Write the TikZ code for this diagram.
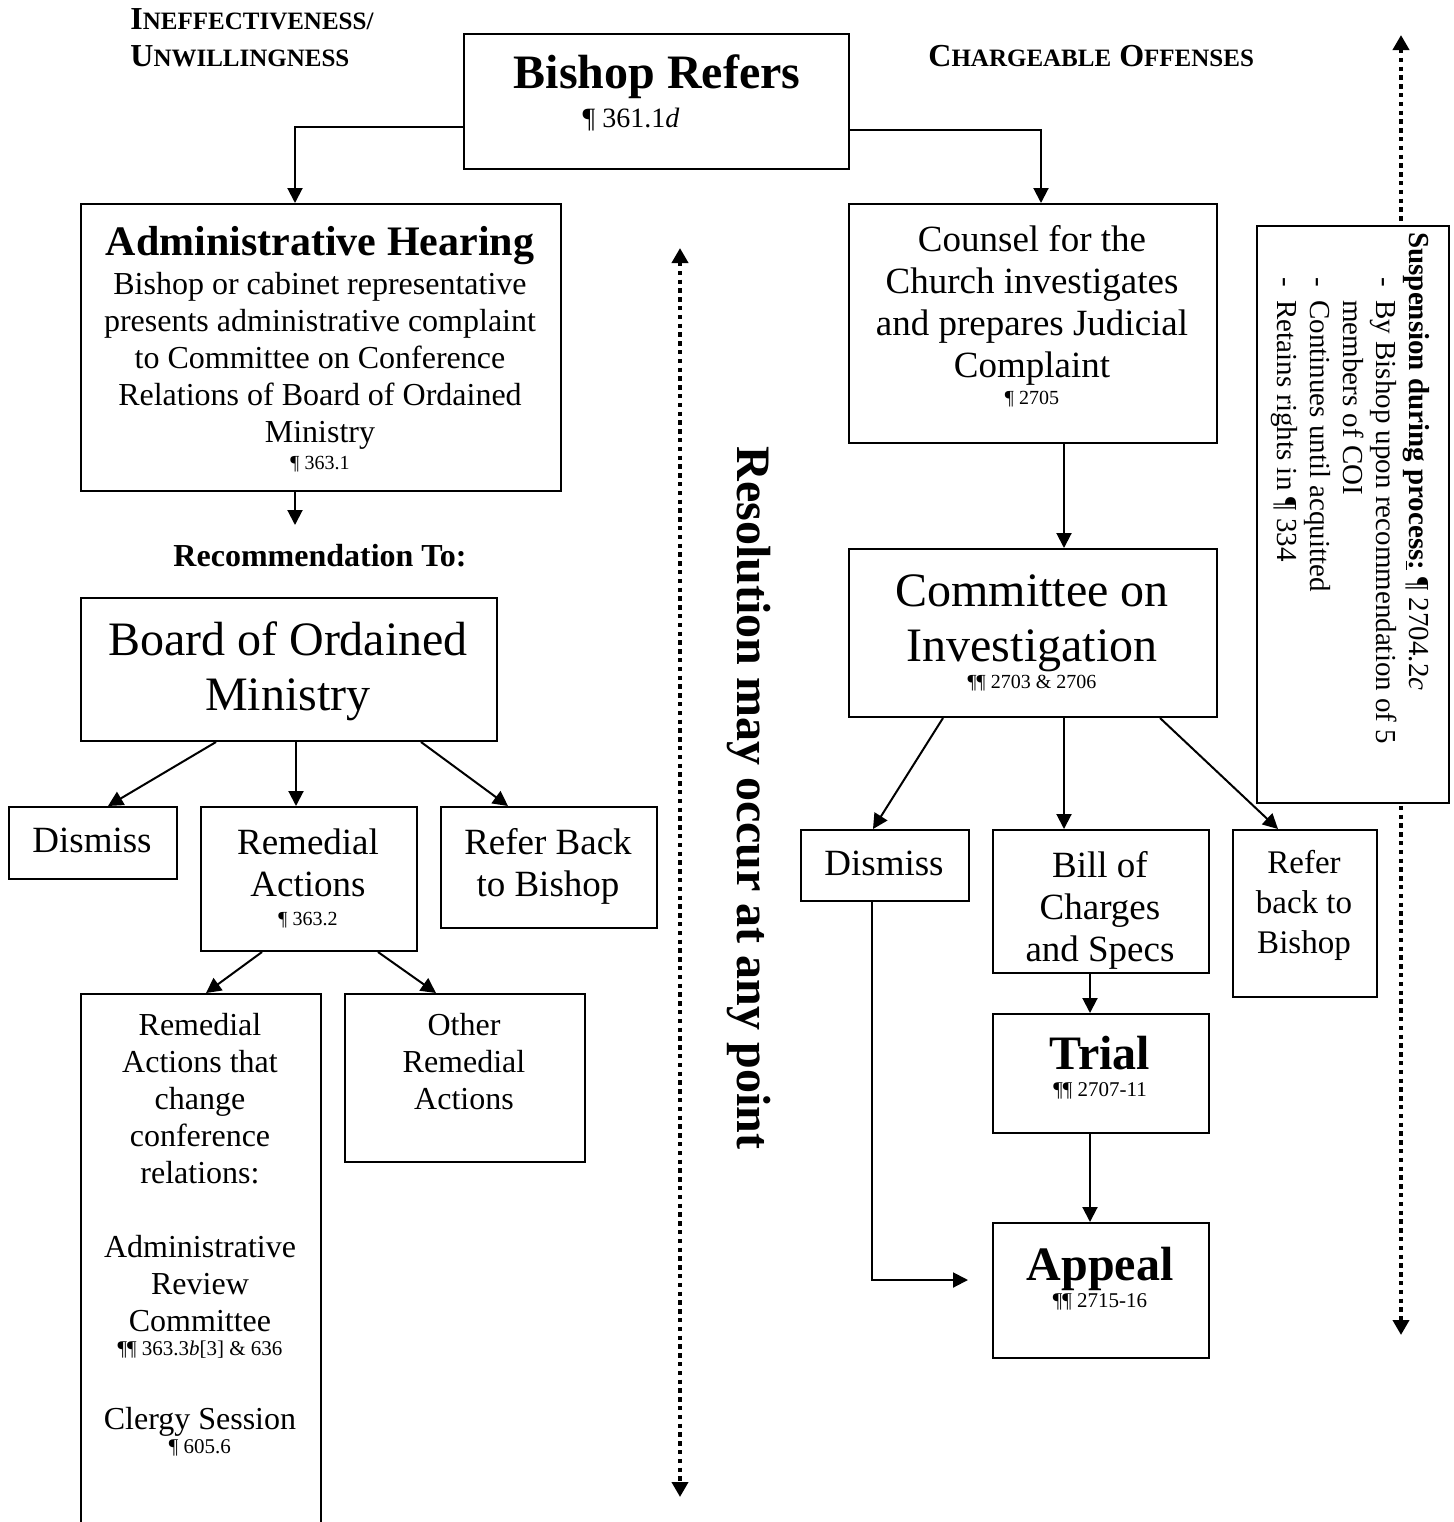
\documentclass[tikz,border=0pt]{standalone}
\usepackage{fontspec}
\setmainfont{Liberation Serif}
\usetikzlibrary{arrows.meta,calc}
\newcommand{\fsz}[2]{\fontsize{#1}{#2}\selectfont\spaceskip=.25em\xspaceskip=.25em\relax}
\newcommand{\SCap}[2]{{\fontsize{16}{18}\selectfont #1}{\fontsize{12.5}{15}\selectfont #2}}
\tikzset{
  box/.style={draw, line width=1pt, inner sep=0, anchor=north west, fill=white},
  arr/.style={line width=1pt, -{Triangle[length=7.5pt,width=7.5pt]}},
  dotarr/.style={line width=2.2pt, dash pattern=on 2.2pt off 2.2pt,
     {Triangle[length=7.5pt,width=8pt]}-{Triangle[length=7.5pt,width=8pt]}},
  txt/.style={inner sep=0, align=center, anchor=north},
  one/.style={inner sep=0, anchor=base},
}
\begin{document}
\begin{tikzpicture}[x=0.5pt,y=-0.5pt]
\useasboundingbox (0,0) rectangle (1454,1522);

% headers
\node[inner sep=0, anchor=base west, font=\bfseries] (h1) at (130,29) {\SCap{I}{NEFFECTIVENESS/}};
\node[inner sep=0, anchor=base west, font=\bfseries] (h2) at (130,66) {\SCap{U}{NWILLINGNESS}};
\node[inner sep=0, anchor=base west, font=\bfseries] (h3) at (928,66) {\SCap{C}{HARGEABLE}\hspace{4pt}\SCap{O}{FFENSES}};

% dotted arrows
\coordinate (resTop) at (680,248);
\coordinate (resBot) at (680,1497);
\draw[dotarr] (resTop) -- (resBot);
\coordinate (susTop) at (1401,35);
\coordinate (susBot) at (1401,1335);
\draw[dotarr] (susTop) -- (susBot);

\node[rotate=-90, inner sep=0, font=\fsz{24}{28}\bfseries] (res) at (749,798) {Resolution may occur at any point};

% boxes
\node[box, minimum width=192.5pt, minimum height=67.5pt] (bishop) at (463,33) {};
\node[box, minimum width=240pt, minimum height=143.5pt] (admin) at (80,203) {};
\node[box, minimum width=208pt, minimum height=71.5pt] (bom) at (80,597) {};
\node[box, minimum width=84pt, minimum height=36pt] (dL) at (8,806) {};
\node[box, minimum width=108pt, minimum height=72pt] (rem) at (200,806) {};
\node[box, minimum width=108pt, minimum height=60.5pt] (rbL) at (440,806) {};
\node[box, minimum width=120pt, minimum height=275pt] (rac) at (80,993) {};
\node[box, minimum width=120pt, minimum height=84pt] (ora) at (344,993) {};
\node[box, minimum width=184pt, minimum height=119.5pt] (coun) at (848,203) {};
\node[box, minimum width=184pt, minimum height=84pt] (coi) at (848,548) {};
\node[box, minimum width=84pt, minimum height=35.5pt] (dR) at (800,829) {};
\node[box, minimum width=108pt, minimum height=71.5pt] (bill) at (992,829) {};
\node[box, minimum width=72pt, minimum height=83.5pt] (rbR) at (1232,829) {};
\node[box, minimum width=108pt, minimum height=59.5pt] (trial) at (992,1013) {};
\node[box, minimum width=108pt, minimum height=67.5pt] (appeal) at (992,1222) {};
\node[box, minimum width=96pt, minimum height=288.5pt] (susp) at (1256,225) {};

% texts
\node[one, font=\fsz{24}{28}\bfseries] (bishopT) at (657,88) {Bishop Refers};
\node[one, font=\fsz{14}{16}] (bishopR) at (631,127) {¶ 361.1\textit{d}};

\node[txt, text width=238pt] (adminT) at (320,226) {\fsz{21}{24}\bfseries Administrative Hearing\par
  \vspace{1pt}\fsz{16}{18.5}\mdseries Bishop or cabinet representative\\presents administrative complaint\\to Committee on Conference\\Relations of Board of Ordained\\Ministry\par
  \fsz{10}{13.5}¶ 363.1\par};

\node[one, font=\fsz{16}{18}\bfseries] (recT) at (320,566) {Recommendation To:};

\node[txt, text width=205pt] (bomT) at (288,621) {\fsz{24}{27.5}Board of Ordained\\Ministry\par};

\node[one, font=\fsz{18.5}{21}] (dLT) at (92,852) {Dismiss};
\node[txt, text width=106pt] (remT) at (308,828) {\fsz{18.5}{21}Remedial\\Actions\par\fsz{10}{14.5}¶ 363.2\par};
\node[txt, text width=106pt] (rbLT) at (548,828) {\fsz{18.5}{21}Refer Back\\to Bishop\par};

\node[txt, text width=118pt] (racT) at (200,1013) {\fsz{16}{18.5}Remedial\\Actions that\\change\\conference\\relations:\par
  \vspace{18.5pt}Administrative\\Review\\Committee\par
  \fsz{10.5}{12}¶¶ 363.3\textit{b}[3] \& 636\par
  \vspace{18.5pt}\fsz{16}{18.5}Clergy Session\par
  \fsz{10.5}{12}¶ 605.6\par};
\node[txt, text width=118pt] (oraT) at (464,1013) {\fsz{16}{18.5}Other\\Remedial\\Actions\par};

\node[txt, text width=182pt] (counT) at (1032,225) {\fsz{18.5}{21}Counsel for the\\Church investigates\\and prepares Judicial\\Complaint\par\fsz{10}{13.5}¶ 2705\par};
\node[txt, text width=182pt] (coiT) at (1032,574) {\fsz{24}{27.5}Committee on\\Investigation\par\fsz{10}{13.5}¶¶ 2703 \& 2706\par};

\node[one, font=\fsz{18.5}{21}] (dRT) at (884,875) {Dismiss};
\node[txt, text width=106pt] (billT) at (1100,851) {\fsz{18.5}{21}Bill of\\Charges\\and Specs\par};
\node[txt, text width=70pt] (rbRT) at (1304,850) {\fsz{16.5}{20}Refer\\back to\\Bishop\par};
\node[txt, text width=106pt] (trialT) at (1100,1036) {\fsz{24}{28}\bfseries Trial\par\fsz{10.5}{13.5}\mdseries ¶¶ 2707-11\par};
\node[txt, text width=106pt] (appealT) at (1100,1247) {\fsz{24}{28}\bfseries Appeal\par\fsz{10.5}{13.5}\mdseries ¶¶ 2715-16\par};

\node[rotate=-90, anchor=north west, inner sep=0, text width=285pt, align=left] (suspT) at (1430,232) {\fsz{14.5}{16.5}\textbf{Suspension during process\underline{:}} ¶ 2704.2\textit{c}\\
  \hspace*{22.5pt}\makebox[11.5pt][l]{-}By Bishop upon recommendation of 5\\
  \hspace*{34pt}members of COI\\
  \hspace*{22.5pt}\makebox[11.5pt][l]{-}Continues until acquitted\\
  \hspace*{22.5pt}\makebox[11.5pt][l]{-}Retains rights in ¶ 334\par};

% connectors
\draw[arr] (bishop.west |- 0,127) -| (295,0 |- admin.north);
\draw[arr] (bishop.east |- 0,130) -| (1041,0 |- coun.north);
\coordinate (recIn) at (295,525);
\draw[arr] (admin.south -| 295,0) -- (recIn);
\draw[arr] (bom.south -| 216,0) -- (dL.north -| 108,0);
\draw[arr] (bom.south -| 296,0) -- (rem.north -| 296,0);
\draw[arr] (bom.south -| 421,0) -- (rbL.north -| 508,0);
\draw[arr] (rem.south -| 262,0) -- (rac.north -| 206,0);
\draw[arr] (rem.south -| 378,0) -- (ora.north -| 436,0);
\draw[arr] (coun.south -| 1064,0) -- (coi.north -| 1064,0);
\draw[arr] (coi.south -| 943,0) -- (dR.north -| 873,0);
\draw[arr] (coi.south -| 1064,0) -- (bill.north -| 1064,0);
\draw[arr] (coi.south -| 1160,0) -- (rbR.north -| 1278,0);
\draw[arr] (bill.south -| 1090,0) -- (trial.north -| 1090,0);
\draw[arr] (trial.south -| 1090,0) -- (appeal.north -| 1090,0);
\coordinate (apIn) at (968,1280);
\draw[arr] (dR.south -| 872,0) |- (apIn);
\end{tikzpicture}
\end{document}
